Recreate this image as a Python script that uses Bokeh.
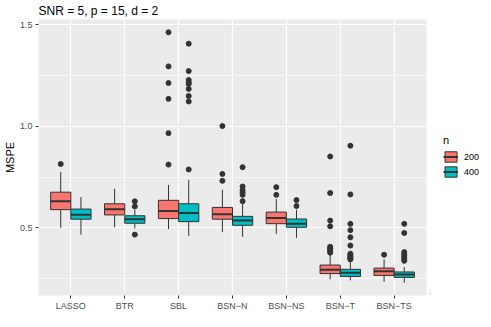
from bokeh.plotting import figure
from bokeh.layouts import row
from bokeh.models import (Range1d, FixedTicker, PrintfTickFormatter, Legend,
                          LegendItem, ColumnDataSource)
from bokeh.embed import file_html
from bokeh.resources import INLINE

methods = ["LASSO", "BTR", "SBL", "BSN\u2212N", "BSN\u2212NS", "BSN\u2212T", "BSN\u2212TS"]
n_levels = ["200", "400"]
colors = {"200": "#F8766D", "400": "#00BFC4"}

# box statistics, one value per method
lo_200  = [0.500, 0.503, 0.494, 0.479, 0.471, 0.247, 0.234]
q1_200  = [0.590, 0.564, 0.546, 0.543, 0.521, 0.275, 0.266]
med_200 = [0.632, 0.592, 0.583, 0.567, 0.549, 0.294, 0.286]
q3_200  = [0.676, 0.619, 0.636, 0.601, 0.578, 0.317, 0.302]
hi_200  = [0.775, 0.693, 0.712, 0.688, 0.642, 0.369, 0.345]

lo_400  = [0.467, 0.497, 0.461, 0.456, 0.451, 0.242, 0.230]
q1_400  = [0.543, 0.523, 0.531, 0.513, 0.503, 0.261, 0.256]
med_400 = [0.565, 0.543, 0.574, 0.536, 0.521, 0.279, 0.271]
q3_400  = [0.593, 0.560, 0.619, 0.557, 0.544, 0.296, 0.283]
hi_400  = [0.652, 0.590, 0.737, 0.618, 0.590, 0.337, 0.307]

out_200 = [
    [0.815],
    [],
    [1.464, 1.296, 1.214, 1.136, 0.967, 0.812],
    [1.002, 0.766, 0.732],
    [0.701, 0.663],
    [0.852, 0.672, 0.536, 0.508, 0.407, 0.400, 0.393, 0.386, 0.378],
    [0.368],
]
out_400 = [
    [],
    [0.631, 0.606, 0.467],
    [1.408, 1.273, 1.229, 1.217, 1.209, 1.185, 1.150, 1.123, 0.788],
    [0.799, 0.704, 0.686, 0.675, 0.663, 0.632],
    [0.637, 0.608],
    [0.905, 0.665, 0.520, 0.489, 0.454, 0.413, 0.373, 0.367, 0.361, 0.355, 0.349, 0.345],
    [0.520, 0.475, 0.381, 0.372, 0.364, 0.355, 0.347, 0.338],
]

y_ticks = [0.5, 1.0, 1.5]
y_minor = [0.25, 0.75, 1.25]

stats = {
    "200": (lo_200, q1_200, med_200, q3_200, hi_200, out_200),
    "400": (lo_400, q1_400, med_400, q3_400, hi_400, out_400),
}

FONT = "Liberation Sans"
DODGE = 0.1875
BOXW = 0.375
FRAME_W = 388
FRAME_H = 276

p = figure(frame_width=FRAME_W, frame_height=FRAME_H,
           output_backend="svg", toolbar_location=None,
           x_range=Range1d(0.4, len(methods) + 0.6),
           y_range=Range1d(0.167, 1.527),
           title="SNR = 5, p = 15, d = 2")
p.background_fill_color = "#EBEBEB"
p.border_fill_color = "white"
p.outline_line_color = None
p.min_border_left = 0
p.min_border_top = 2
p.min_border_bottom = 2
p.min_border_right = 4

p.title.text_font = FONT
p.title.text_font_size = "12px"
p.title.text_font_style = "normal"
p.title.text_color = "black"
p.title.standoff = 3

p.xaxis.ticker = FixedTicker(ticks=list(range(1, len(methods) + 1)))
p.xaxis.major_label_overrides = {i + 1: m for i, m in enumerate(methods)}
p.yaxis.ticker = FixedTicker(ticks=y_ticks, minor_ticks=y_minor)
p.yaxis.formatter = PrintfTickFormatter(format="%.1f")
p.yaxis.axis_label = "MSPE"

for ax in (p.xaxis, p.yaxis):
    ax.axis_line_color = None
    ax.major_tick_line_color = "#333333"
    ax.major_tick_out = 3
    ax.major_tick_in = 0
    ax.minor_tick_line_color = None
    ax.major_label_text_font = FONT
    ax.major_label_text_font_size = "9px"
    ax.major_label_text_color = "#4D4D4D"
    ax.major_label_standoff = 2
    ax.axis_label_text_font = FONT
    ax.axis_label_text_font_size = "11px"
    ax.axis_label_text_font_style = "normal"
    ax.axis_label_text_color = "black"
    ax.axis_label_standoff = 1

p.xgrid.ticker = FixedTicker(ticks=list(range(1, len(methods) + 1)))
p.xgrid.grid_line_color = "white"
p.xgrid.grid_line_width = 1.2
p.ygrid.ticker = FixedTicker(ticks=y_ticks, minor_ticks=y_minor)
p.ygrid.grid_line_color = "white"
p.ygrid.grid_line_width = 1.2
p.ygrid.minor_grid_line_color = "white"
p.ygrid.minor_grid_line_width = 0.6

for k, n in enumerate(n_levels):
    lo, q1, med, q3, hi, outs = stats[n]
    off = -DODGE if k == 0 else DODGE
    xs = [i + 1 + off for i in range(len(methods))]
    src = ColumnDataSource(dict(x=xs, lo=lo, q1=q1, med=med, q3=q3, hi=hi,
                                xl=[x - BOXW / 2 for x in xs],
                                xr=[x + BOXW / 2 for x in xs]))
    p.segment(x0="x", y0="q3", x1="x", y1="hi", source=src,
              line_color="#333333", line_width=1)
    p.segment(x0="x", y0="q1", x1="x", y1="lo", source=src,
              line_color="#333333", line_width=1)
    p.vbar(x="x", width=BOXW, top="q3", bottom="q1", source=src,
           fill_color=colors[n], line_color="#333333", line_width=1)
    p.segment(x0="xl", y0="med", x1="xr", y1="med", source=src,
              line_color="#333333", line_width=2)
    ox, oy = [], []
    for i, vals in enumerate(outs):
        for v in vals:
            ox.append(xs[i])
            oy.append(v)
    p.scatter(ox, oy, size=5, color="#333333")

# separate small figure that only holds the legend
lg = figure(width=50, height=311, output_backend="svg", toolbar_location=None,
            x_range=Range1d(0, 1), y_range=Range1d(0, 1))
lg.axis.visible = False
lg.grid.visible = False
lg.outline_line_color = None
lg.background_fill_color = "white"
lg.border_fill_color = "white"
lg.min_border = 0

# legend proxies: one hidden item each, outside the visible range
legend_items = []
for n in n_levels:
    rb = lg.vbar(x=[-5], top=[-4], bottom=[-5], width=0.1,
                 fill_color=colors[n], line_color="#333333", line_width=1)
    rm = lg.line(x=[-5, -4], y=[-5, -5], line_color="#333333", line_width=2)
    legend_items.append(LegendItem(label=n, renderers=[rb, rm]))

legend = Legend(items=legend_items, title="n", location=(13, 115))
legend.title_text_font = FONT
legend.title_text_font_size = "11px"
legend.title_text_font_style = "normal"
legend.title_text_color = "black"
legend.title_standoff = 4
legend.label_text_font = FONT
legend.label_text_font_size = "9px"
legend.label_text_color = "black"
legend.glyph_width = 15
legend.glyph_height = 13
legend.spacing = 2
legend.label_standoff = 6
legend.padding = 2
legend.margin = 0
legend.border_line_color = None
legend.background_fill_alpha = 0
lg.add_layout(legend)

layout = row(p, lg)
open("out.html", "w").write(file_html(layout, INLINE))
